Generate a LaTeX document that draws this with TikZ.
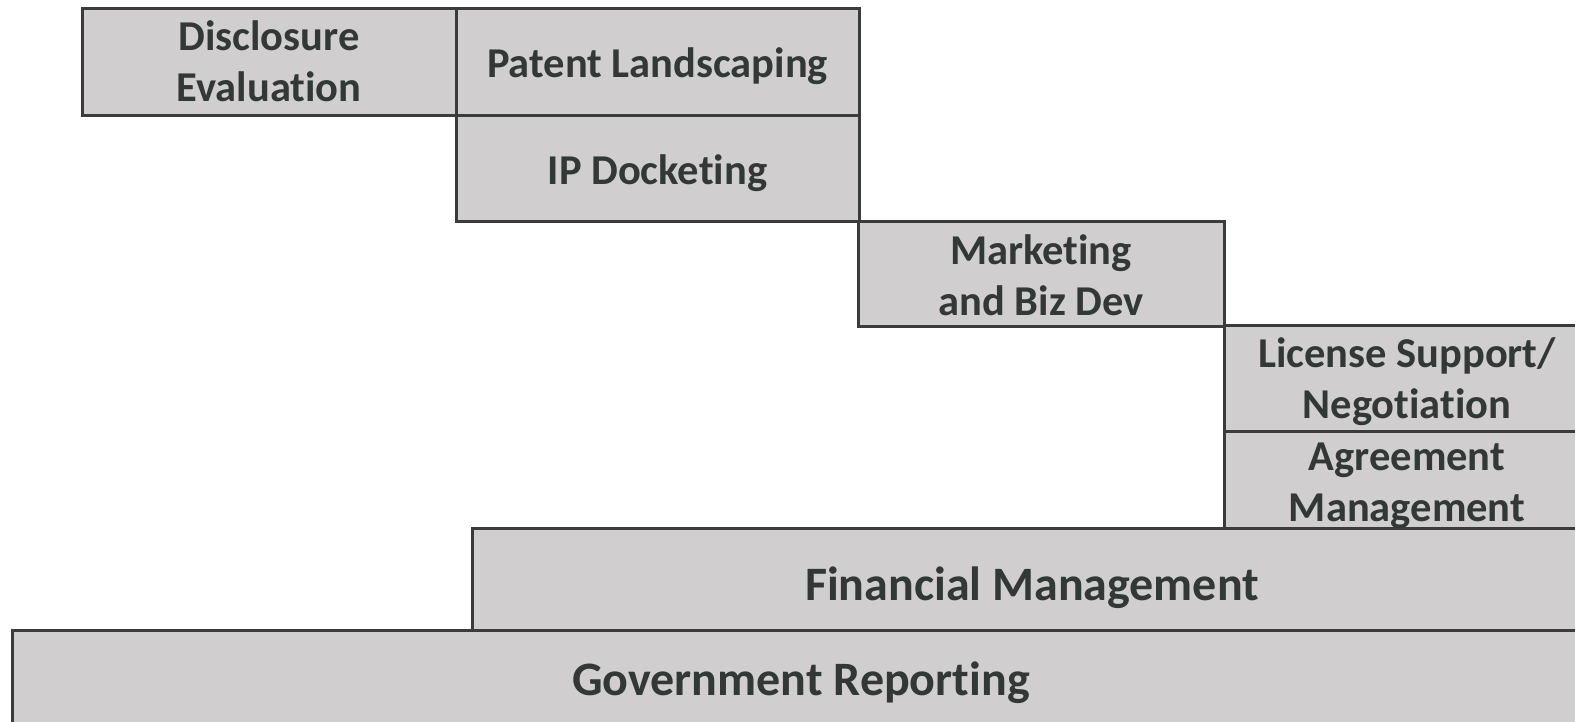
\documentclass[tikz,border=0pt]{standalone}
\usepackage{fontspec}
\setmainfont{Carlito}[Ligatures=NoCommon]
\begin{document}
\definecolor{boxfill}{HTML}{D0CECF}
\definecolor{boxline}{HTML}{3A3C3C}
\definecolor{boxtext}{HTML}{323836}
\begin{tikzpicture}[x=1pt,y=-1pt,
  stagebox/.style={draw=boxline,fill=boxfill,line width=3pt,anchor=north west,
    inner sep=0pt,outer sep=0pt},
  stagelabel/.style={text=boxtext,inner sep=0pt,align=center,
    font=\bfseries\fontsize{42.5}{51}\selectfont},
  widelabel/.style={stagelabel,font=\bfseries\fontsize{48}{51}\selectfont}]
\useasboundingbox (0,0) rectangle (1575,721);
\clip (0,0) rectangle (1575,721);
% stage boxes
\node[stagebox,minimum width=374pt,minimum height=107pt] (disc) at (82,8) {};
\node[stagebox,minimum width=403pt,minimum height=107pt] (land) at (456,8) {};
\node[stagebox,minimum width=403pt,minimum height=106pt] (dock) at (456,115) {};
\node[stagebox,minimum width=366pt,minimum height=105pt] (mkt) at (858,221) {};
\node[stagebox,minimum width=366pt,minimum height=106pt] (lic) at (1224,325) {};
\node[stagebox,minimum width=366pt,minimum height=97pt] (agr) at (1224,431) {};
\node[stagebox,minimum width=1118pt,minimum height=102pt] (fin) at (472,528) {};
\node[stagebox,minimum width=1578pt,minimum height=110pt] (gov) at (12,630) {};
% labels
\node[stagelabel] (disctext) at (disc.center) {Disclosure\\Evaluation};
\node[stagelabel,yshift=-5pt] (landtext) at (land.center) {Patent Landscaping};
\node[stagelabel,yshift=-5pt] (docktext) at (dock.center) {IP Docketing};
\node[stagelabel,yshift=-2pt] (mkttext) at (mkt.center) {Marketing\\and Biz Dev};
\node[stagelabel,yshift=-4pt] (lictext) at (lic.center) {License Support/\\Negotiation};
\node[stagelabel,yshift=-6pt] (agrtext) at (agr.center) {Agreement\\Management};
\node[widelabel] (fintext) at (1032,588) {Financial Management};
\node[widelabel] (govtext) at (801,683) {Government Reporting};
\end{tikzpicture}
\end{document}
